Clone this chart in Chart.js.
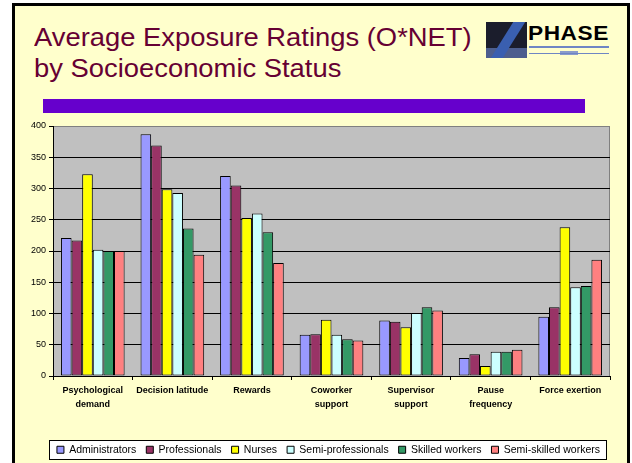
<!DOCTYPE html>
<html>
<head>
<meta charset="utf-8">
<script src="https://cdn.jsdelivr.net/npm/chart.js@4/dist/chart.umd.min.js"></script>
<style>
  html, body { margin: 0; padding: 0; background: #fff; overflow: hidden; }
  body { width: 632px; height: 463px; position: relative; font-family: "Liberation Sans", Arial, sans-serif; }
  .frame { position: absolute; left: 12px; top: 3px; width: 612px; height: 480px; border: 3px solid #000; background: #FFFFCC; }
  .title { position: absolute; left: 34px; top: 22px; font-size: 25px; line-height: 31px; color: #660033;
           transform: scaleX(1.095); transform-origin: left top; white-space: nowrap; }
  .rule { position: absolute; left: 43px; top: 99px; width: 542px; height: 14px; background: #6600CC; }
  .logo { position: absolute; left: 486px; top: 22px; width: 124px; height: 36px; }
  .logo .mark { position: absolute; left: 0; top: 0; width: 41px; height: 36px; background: #1b1d2c; overflow: hidden; }
  .logo .mark .slash { position: absolute; left: 16px; top: -2px; width: 12px; height: 40px; background: #3a5fb0; transform: skewX(-32deg); }
  .logo .mark .base { position: absolute; left: 0; top: 26px; width: 41px; height: 10px; background: #5a6fa8; opacity: .8; }
  .logo .word { position: absolute; left: 42px; top: -1px; font-size: 21px; font-weight: bold; color: #000;
                transform: scaleX(1.08); transform-origin: left top; letter-spacing: 0.5px; }
  .logo .sub { position: absolute; left: 43px; top: 24px; width: 80px; height: 2px; background: #6f86c4; }
  .logo .sub2 { position: absolute; left: 43px; top: 31px; width: 80px; height: 1px; background: #6f86c4; }
  .logo .sub3 { position: absolute; left: 74px; top: 29px; width: 18px; height: 4px; background: #8a9ccc; }
  #wrap { position: absolute; left: 0; top: 0; width: 632px; height: 465px; }
</style>
</head>
<body>
<div class="frame"></div>
<div class="title">Average Exposure Ratings (O*NET)<br>by Socioeconomic Status</div>
<div class="logo">
  <div class="mark"><div class="base"></div><div class="slash"></div></div>
  <div class="word">PHASE</div>
  <div class="sub"></div><div class="sub3"></div><div class="sub2"></div>
</div>
<div class="rule"></div>
<div id="wrap"><canvas id="chart"></canvas></div>
<script>
// values
const categories = [
  ['Psychological', 'demand'], 'Decision latitude', 'Rewards',
  ['Coworker', 'support'], ['Supervisor', 'support'], ['Pause', 'frequency'], 'Force exertion'
];
const administrators     = [221, 387, 320, 66, 89, 29, 95];
const professionals      = [217, 369, 305, 67, 87, 35, 110];
const nurses             = [323, 299, 253, 90, 78, 16, 238];
const semiProfessionals  = [202, 293, 260, 66, 101, 39, 142];
const skilledWorkers     = [200, 236, 230, 59, 110, 39, 144];
const semiSkilledWorkers = [200, 194, 181, 57, 105, 42, 186];
const yMin = 0, yMax = 400, yStep = 50;

const series = [
  {label: 'Administrators', data: administrators, color: '#9999FF'},
  {label: 'Professionals', data: professionals, color: '#993366'},
  {label: 'Nurses', data: nurses, color: '#FFFF00'},
  {label: 'Semi-professionals', data: semiProfessionals, color: '#CCFFFF'},
  {label: 'Skilled workers', data: skilledWorkers, color: '#339966'},
  {label: 'Semi-skilled workers', data: semiSkilledWorkers, color: '#FF8080'}
];

// gray plot area + white legend box
const slideDecor = {
  id: 'slideDecor',
  beforeDraw(chart) {
    const {ctx, chartArea: a} = chart;
    ctx.save();
    ctx.fillStyle = '#C0C0C0';
    ctx.fillRect(a.left, a.top, a.right - a.left, a.bottom - a.top);
    ctx.strokeStyle = '#808080';
    ctx.lineWidth = 1;
    ctx.strokeRect(a.left + 0.5, a.top + 0.5, a.right - a.left - 1, a.bottom - a.top);

    const lg = chart.legend;
    if (lg && lg.legendItems && lg.legendItems.length) {
      // legend is drawn right-aligned; find its row extent
      const rowW = lg.lineWidths[0];
      const pad = lg.options.labels.padding;
      const x0 = Math.round(lg.right - rowW - 8) + 0.5;
      const x1 = Math.round(lg.right - pad + 6) + 0.5;
      const hb = lg.legendHitBoxes[0];
      const cy = lg.top + pad + hb.height / 2;
      const y0 = Math.round(cy - 9.5) + 0.5;
      ctx.fillStyle = '#fff';
      ctx.fillRect(x0, y0, x1 - x0, 19);
      ctx.strokeStyle = '#000';
      ctx.strokeRect(x0, y0, x1 - x0, 19);
    }
    ctx.restore();
  }
};

new Chart(document.getElementById('chart'), {
  type: 'bar',
  data: {
    labels: categories,
    datasets: series.map(s => ({
      label: s.label,
      data: s.data,
      backgroundColor: s.color,
      borderColor: '#000',
      borderWidth: 1,
      borderSkipped: false,
      categoryPercentage: 0.8,
      barPercentage: 1.0
    }))
  },
  options: {
    responsive: true,
    maintainAspectRatio: false,
    animation: false,
    devicePixelRatio: 1,
    layout: {padding: {left: 8, right: 22, top: 126, bottom: 0}},
    plugins: {
      legend: {
        position: 'bottom',
        align: 'end',
        labels: {
          boxWidth: 7, boxHeight: 7, padding: 10, color: '#000',
          font: {family: '"Liberation Sans", Arial, sans-serif', size: 10.5}
        }
      },
      tooltip: {enabled: false}
    },
    scales: {
      x: {
        afterFit: (s) => { s.height = 58.5; },
        grid: {display: true, drawOnChartArea: false, drawTicks: true, tickLength: 4, color: '#000', offset: true},
        border: {display: true, color: '#000'},
        ticks: {
          autoSkip: false, maxRotation: 0, padding: 4, color: '#000',
          font: {family: '"Liberation Sans", Arial, sans-serif', size: 9, weight: 'bold', lineHeight: 1.55}
        }
      },
      y: {
        min: yMin, max: yMax,
        afterFit: (s) => { s.width = 45; },
        grid: {
          color: (c) => (c.tick && c.tick.value === yMax ? '#808080' : '#000'),
          tickColor: '#000', tickLength: 4, drawTicks: true
        },
        border: {display: true, color: '#000'},
        ticks: {
          stepSize: yStep, padding: 3, color: '#000',
          font: {family: '"Liberation Sans", Arial, sans-serif', size: 9}
        }
      }
    }
  },
  plugins: [slideDecor]
});
</script>
</body>
</html>
